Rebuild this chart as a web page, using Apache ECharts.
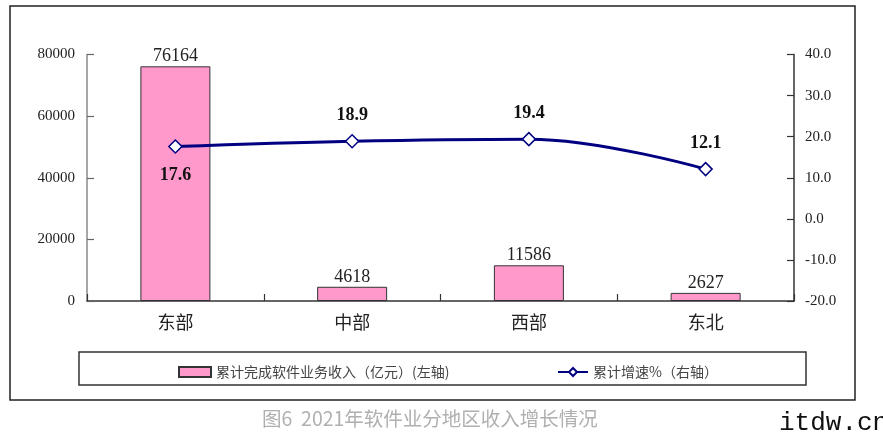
<!DOCTYPE html>
<html>
<head>
<meta charset="utf-8">
<script src="https://cdn.jsdelivr.net/npm/echarts@6/dist/echarts.min.js"></script>
<style>
html,body{margin:0;padding:0;background:#fff;}
#main{width:883px;height:438px;}
</style>
</head>
<body>
<div id="main"></div>
<script>
const categories = ['东部', '中部', '西部', '东北'];
const revenue = [76164, 4618, 11586, 2627];
const growth = [17.6, 18.9, 19.4, 12.1];
const revenueName = '累计完成软件业务收入（亿元）(左轴)';
const growthName = '累计增速%（右轴）';
const titleText = '图6  2021年软件业分地区收入增长情况';
const watermarkText = 'itdw.cn';

const serif = '"Liberation Serif", "Times New Roman", serif';
const cjk = '"Noto Sans CJK SC", sans-serif';

const chart = echarts.init(document.getElementById('main'));
chart.setOption({
  backgroundColor: '#ffffff',
  animation: false,
  graphic: [
    { type: 'rect', shape: { x: 10, y: 6, width: 845, height: 394 }, style: { fill: 'none', stroke: '#222', lineWidth: 1.5 }, z: -1 },
    { type: 'rect', shape: { x: 79, y: 352, width: 727, height: 33 }, style: { fill: 'none', stroke: '#333', lineWidth: 1.5 }, z: -1 },
    { type: 'text', left: 262, top: 409, style: { text: titleText, fill: '#b0b0b0', font: '19.5px ' + cjk } },
    { type: 'text', left: 779, top: 410, style: { text: watermarkText, fill: '#111', font: '26px "Liberation Mono", monospace' } }
  ],
  legend: [
    { data: [{ name: revenueName, icon: 'rect' }], left: 173, top: 360, itemWidth: 32, itemHeight: 10, textStyle: { fontSize: 14, color: '#444', fontFamily: cjk } },
    { data: [growthName], left: 552, top: 360, itemWidth: 30, itemHeight: 10, textStyle: { fontSize: 14, color: '#444', fontFamily: cjk } }
  ],
  grid: { left: 87, right: 89, top: 54.5, bottom: 137 },
  xAxis: {
    type: 'category',
    data: categories,
    axisLine: { lineStyle: { color: '#333', width: 1.5 } },
    axisTick: { show: true, inside: true, length: 7, lineStyle: { color: '#333', width: 1.2 } },
    axisLabel: { fontSize: 18, color: '#222', fontFamily: cjk, margin: 12 }
  },
  yAxis: [
    {
      type: 'value', min: 0, max: 80000, interval: 20000,
      axisLine: { show: true, lineStyle: { color: '#888', width: 1.5 } },
      axisTick: { show: true, inside: true, length: 7, lineStyle: { color: '#666', width: 1.2 } },
      splitLine: { show: false },
      axisLabel: { fontSize: 15, color: '#222', fontFamily: serif, margin: 12, formatter: v => String(v) }
    },
    {
      type: 'value', min: -20, max: 40, interval: 10, position: 'right',
      axisLine: { show: true, lineStyle: { color: '#333', width: 1.5 } },
      axisTick: { show: true, inside: true, length: 7, lineStyle: { color: '#333', width: 1.2 } },
      splitLine: { show: false },
      axisLabel: { fontSize: 15, color: '#222', fontFamily: serif, margin: 11, formatter: v => v.toFixed(1) }
    }
  ],
  series: [
    {
      name: revenueName,
      type: 'bar',
      data: revenue,
      barWidth: 70,
      itemStyle: { color: '#ff99cc', borderColor: '#333', borderWidth: 1 },
      label: { show: true, position: 'top', distance: 1, fontSize: 18, color: '#222', fontFamily: serif }
    },
    {
      name: growthName,
      type: 'line',
      yAxisIndex: 1,
      smooth: 0.4,
      data: growth.map((v, i) => i === 0 ? { value: v, label: { position: 'bottom', distance: 13 } } : v),
      symbol: 'diamond',
      symbolSize: 13,
      lineStyle: { color: '#000080', width: 3 },
      itemStyle: { color: '#ffffff', borderColor: '#000080', borderWidth: 1.5 },
      label: { show: true, position: 'top', distance: 10, fontSize: 18, fontWeight: 'bold', color: '#111', fontFamily: serif, formatter: p => p.value.toFixed(1) },
      z: 5
    }
  ]
});
</script>
</body>
</html>
